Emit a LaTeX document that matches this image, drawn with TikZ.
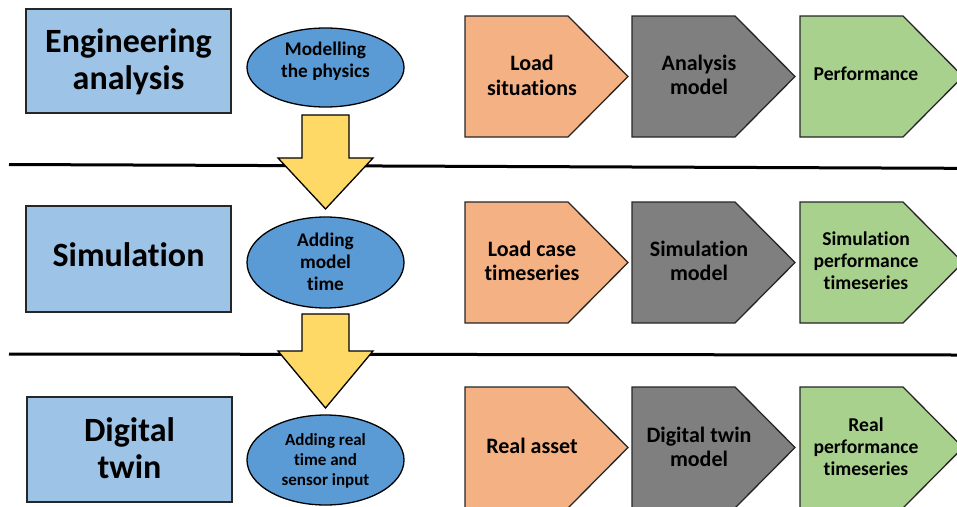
\documentclass[tikz,border=0pt]{standalone}
\usepackage{fontspec}
\setmainfont{Carlito}[Ligatures=NoCommon]
\usetikzlibrary{shapes.geometric}
\definecolor{boxblue}{HTML}{9DC3E6}
\definecolor{ellblue}{HTML}{5B9BD5}
\definecolor{arrowyellow}{HTML}{FFD966}
\definecolor{plateorange}{HTML}{F4B183}
\definecolor{plategray}{HTML}{7F7F7F}
\definecolor{plategreen}{HTML}{A9D18E}
\newcommand\homeplate[3]{%
  \filldraw[platepath, fill=#3] (#1,#2) -- ++(103,0) -- ++(60,60.5) -- ++(-60,60.5) -- ++(-103,0) -- cycle;}
\tikzset{
  stagebox/.style={draw=black!85, line width=1.3pt, fill=boxblue, minimum width=205pt, minimum height=104pt, inner sep=0pt, outer sep=0pt},
  stagetext/.style={align=center, inner sep=0pt, font=\bfseries\fontsize{34}{37}\selectfont},
  stepell/.style={ellipse, draw=black, line width=1.3pt, fill=ellblue, minimum width=157pt, inner sep=0pt, outer sep=0pt},
  elltext/.style={align=center, inner sep=0pt, font=\bfseries\fontsize{19.3}{22}\selectfont},
  platetext/.style={align=center, inner sep=0pt, font=\bfseries\fontsize{22}{24.5}\selectfont},
  greentext/.style={align=center, inner sep=0pt, font=\bfseries\fontsize{19.6}{22}\selectfont},
  platepath/.style={draw=black!85, line width=1.3pt},
  blockarrow/.style={draw=black, line width=1.3pt, fill=arrowyellow},
  divider/.style={line width=3pt, black}
}
\begin{document}
\begin{tikzpicture}[x=1pt,y=-1pt]
\useasboundingbox (0,0) rectangle (957,506);
\begin{scope}
\clip (0,0) rectangle (957,506);
% dividers
\coordinate (l1a) at (9,164.5);
\coordinate (l1b) at (957,168.3);
\coordinate (l2a) at (9,354);
\coordinate (l2b) at (957,355);
\draw[divider] (l1a) -- (l1b);
\draw[divider] (l2a) -- (l2b);
% stage boxes
\node[stagebox] (s1) at (128.5,61) {};
\node[stagebox, minimum height=106pt] (s2) at (128.5,259) {};
\node[stagebox, minimum height=105pt] (s3) at (129.5,449.5) {};
\node[stagetext] (s1t) at (128.5,62) {Engineering\\analysis};
\node[stagetext] (s2t) at (128.5,255) {Simulation};
\node[stagetext] (s3t) at (129.5,447.7) {Digital\\twin};
% ellipses
\node[stepell, minimum height=79pt] (e1) at (325.5,67.5) {};
\node[stepell, minimum height=91pt] (e2) at (325.5,262.5) {};
\node[stepell, minimum height=90pt] (e3) at (325.5,460) {};
\node[elltext] (e1t) at (325.5,61.7) {Modelling\\the physics};
\node[elltext] (e2t) at (325.5,261.7) {Adding\\model\\time};
\node[elltext, font=\bfseries\fontsize{17}{20}\selectfont] (e3t) at (325.5,461) {Adding real\\time and\\sensor input};
% block arrows
\draw[blockarrow] (302,115) -- (349,115) -- (349,158) -- (373,158) -- (325.5,209) -- (278,158) -- (302,158) -- cycle;
\draw[blockarrow] (302,314) -- (349,314) -- (349,351) -- (373,351) -- (325.5,408) -- (278,351) -- (302,351) -- cycle;
% home plates row 1
\homeplate{465}{16}{plateorange}
\homeplate{632}{16}{plategray}
\homeplate{800}{16}{plategreen}
\node[platetext] (r1a) at (532,75.2) {Load\\situations};
\node[platetext] (r1b) at (699,75) {Analysis\\model};
\node[greentext] (r1c) at (866,73.4) {Performance};
% row 2
\homeplate{465}{202}{plateorange}
\homeplate{632}{202}{plategray}
\homeplate{800}{202}{plategreen}
\node[platetext] (r2a) at (532,261) {Load case\\timeseries};
\node[platetext] (r2b) at (699,261) {Simulation\\model};
\node[greentext] (r2c) at (866,261) {Simulation\\performance\\timeseries};
% row 3
\homeplate{465}{387}{plateorange}
\homeplate{632}{387}{plategray}
\homeplate{800}{387}{plategreen}
\node[platetext] (r3a) at (532,445.7) {Real asset};
\node[platetext] (r3b) at (699,446.7) {Digital twin\\model};
\node[greentext] (r3c) at (866,447) {Real\\performance\\timeseries};
\end{scope}
\end{tikzpicture}
\end{document}
